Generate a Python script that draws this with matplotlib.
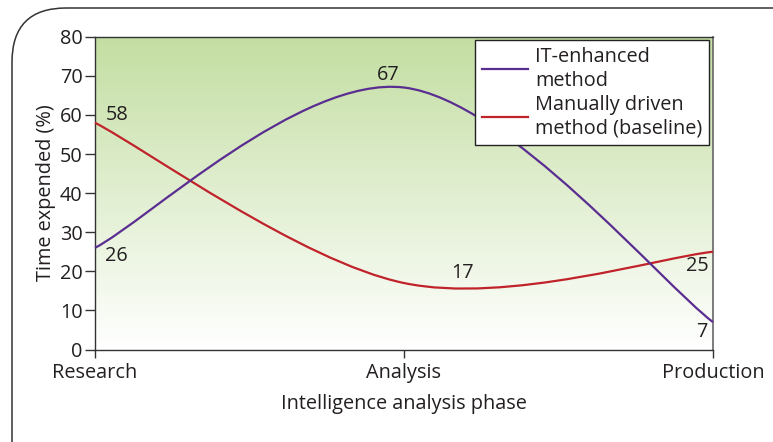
import numpy as np
import matplotlib
matplotlib.use("Agg")
import matplotlib.pyplot as plt
from matplotlib.path import Path
from matplotlib.patches import PathPatch, FancyBboxPatch
from matplotlib.lines import Line2D

phases = ["Research", "Analysis", "Production"]
it_enhanced = [26, 67, 7]
manual = [58, 17, 25]
series_names = ["IT-enhanced\nmethod", "Manually driven\nmethod (baseline)"]
y_ticks = [0, 10, 20, 30, 40, 50, 60, 70, 80]

plt.rcParams['font.family'] = ['Open Sans', 'DejaVu Sans']
PURPLE = "#5a2d91"
RED = "#c1232b"
TXT = "#231f20"

fig = plt.figure(figsize=(7.73, 4.42), dpi=100)
W, H = 773, 442
ax = fig.add_axes([95 / W, 1 - 349.5 / H, (713 - 95) / W, (349.5 - 36.7) / H])

# rounded frame
frame = FancyBboxPatch((12 / W, -0.2), 1.2, 1 - 8 / H + 0.2,
                       boxstyle="round,pad=0,rounding_size=0.07",
                       transform=fig.transFigure, fill=False,
                       edgecolor="#333333", linewidth=1.1,
                       mutation_aspect=W / H)
fig.patches.append(frame)

x = np.arange(len(phases))
ax.set_xlim(0, 2)
ax.set_ylim(0, 80)

# gradient background
grad = np.linspace(0, 1, 256).reshape(-1, 1)
top = np.array([195, 222, 162]) / 255
bot = np.array([255, 255, 255]) / 255
img = bot + (top - bot) * grad[..., None] * np.ones((1, 2, 1))
ax.imshow(img, extent=[0, 2, 0, 80], origin="lower", aspect="auto", zorder=0)


def smooth_path(xs, ys):
    pts = np.column_stack([xs, ys]).astype(float)
    n = len(pts)
    verts = [pts[0]]
    codes = [Path.MOVETO]
    for i in range(n - 1):
        p_prev = pts[max(i - 1, 0)]
        p0 = pts[i]
        p1 = pts[i + 1]
        p_next = pts[min(i + 2, n - 1)]
        c1 = p0 + (p1 - p_prev) / 6
        c2 = p1 - (p_next - p0) / 6
        verts += [c1, c2, p1]
        codes += [Path.CURVE4] * 3
    return Path(verts, codes)


for ys, col in [(manual, RED), (it_enhanced, PURPLE)]:
    ax.add_patch(PathPatch(smooth_path(x, ys), facecolor="none", edgecolor=col,
                           linewidth=1.6, zorder=3, transform=ax.transData,
                           clip_on=False))

fs = 14.3
ax.text(0.07, manual[0] + 2, str(manual[0]), fontsize=fs, color=TXT, ha="center", va="center")
ax.text(0.07, it_enhanced[0] - 2, str(it_enhanced[0]), fontsize=fs, color=TXT, ha="center", va="center")
ax.text(0.95, it_enhanced[1] + 3.3, str(it_enhanced[1]), fontsize=fs, color=TXT, ha="center", va="center")
ax.text(1.19, manual[1] + 2.5, str(manual[1]), fontsize=fs, color=TXT, ha="center", va="center")
ax.text(1.95, manual[2] - 3.7, str(manual[2]), fontsize=fs, color=TXT, ha="center", va="center")
ax.text(1.965, it_enhanced[2] - 2.6, str(it_enhanced[2]), fontsize=fs, color=TXT, ha="center", va="center")

ax.set_yticks(y_ticks)
ax.set_xticks(x)
ax.set_xticklabels(phases)
ax.tick_params(axis="y", labelsize=fs, length=7, width=1, color="#333333", labelcolor=TXT, pad=2)
ax.tick_params(axis="x", labelsize=fs, length=6, width=1, color="#333333", labelcolor=TXT, pad=3.5)
ax.set_ylabel("Time expended (%)", fontsize=fs, color=TXT, labelpad=3)
ax.set_xlabel("Intelligence analysis phase", fontsize=fs, color=TXT, labelpad=8)
for s in ["left", "bottom", "top"]:
    ax.spines[s].set_color("#333333")
    ax.spines[s].set_linewidth(1)
ax.spines["right"].set_color("#666666")
ax.spines["right"].set_linewidth(1.2)

handles = [Line2D([], [], color=PURPLE, lw=1.6), Line2D([], [], color=RED, lw=1.6)]
leg = ax.legend(handles, series_names, loc="upper right", bbox_to_anchor=(0.9935, 0.99),
                fontsize=fs, frameon=True, fancybox=False, edgecolor="#222222",
                framealpha=1, borderpad=0.35, handlelength=2.3, handletextpad=0.35,
                labelspacing=0.2, borderaxespad=0)
leg.get_frame().set_linewidth(1)
for t in leg.get_texts():
    t.set_color(TXT)
    t.set_linespacing(1.25)

fig.savefig("out.png", dpi=100)
